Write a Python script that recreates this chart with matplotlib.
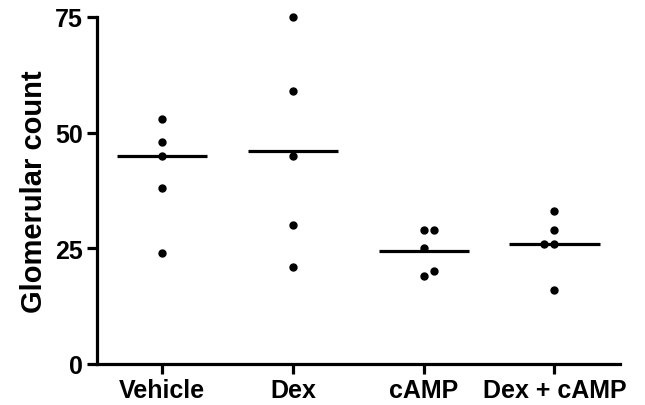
import matplotlib
matplotlib.use('Agg')
import matplotlib.pyplot as plt
import numpy as np

plt.rcParams['font.family'] = ['Liberation Sans', 'DejaVu Sans']
plt.rcParams['font.weight'] = 'bold'

# groups and points
groups = ['Vehicle', 'Dex', 'cAMP', 'Dex + cAMP']
vehicle = [53, 48, 45, 38, 24]
dex = [75, 59, 45, 30, 21]
camp = [29, 29, 25, 20, 19]
dex_camp = [33, 29, 26, 26, 16]
# sideways nudge for points that sit on top of each other
vehicle_dx = [0, 0, 0, 0, 0]
dex_dx = [0, 0, 0, 0, 0]
camp_dx = [0, 0.077, 0, 0.077, 0]
dex_camp_dx = [0, 0, -0.08, 0, 0]
# horizontal bars as drawn
centre_lines = [45, 46, 24.4, 26]

series = [vehicle, dex, camp, dex_camp]
nudges = [vehicle_dx, dex_dx, camp_dx, dex_camp_dx]

fig = plt.figure(figsize=(6.45, 4.06), dpi=100)
ax = fig.add_axes([0.150, 0.101, 0.811, 0.855])

for i, (vals, dx) in enumerate(zip(series, nudges)):
    ax.plot(i + np.array(dx), vals, 'o', color='black', markersize=5,
            zorder=3, clip_on=False)
    ax.plot([i - 0.345, i + 0.345], [centre_lines[i]] * 2, color='black',
            lw=2.3, solid_capstyle='butt', zorder=2)

ax.set_xlim(-0.5, 3.5)
ax.set_ylim(0, 75)
ax.set_xticks(range(len(groups)))
ax.set_xticklabels(groups, fontsize=18, fontweight='bold')
ax.set_yticks([0, 25, 50, 75])
ax.set_yticklabels(['0', '25', '50', '75'], fontsize=18, fontweight='bold')
ax.set_ylabel('Glomerular count', fontsize=21, fontweight='bold', labelpad=5)

for s in ['top', 'right']:
    ax.spines[s].set_visible(False)
for s in ['left', 'bottom']:
    ax.spines[s].set_linewidth(2.3)
ax.tick_params(width=2.3, length=7, pad=3)

fig.savefig('out.png', dpi=100)
